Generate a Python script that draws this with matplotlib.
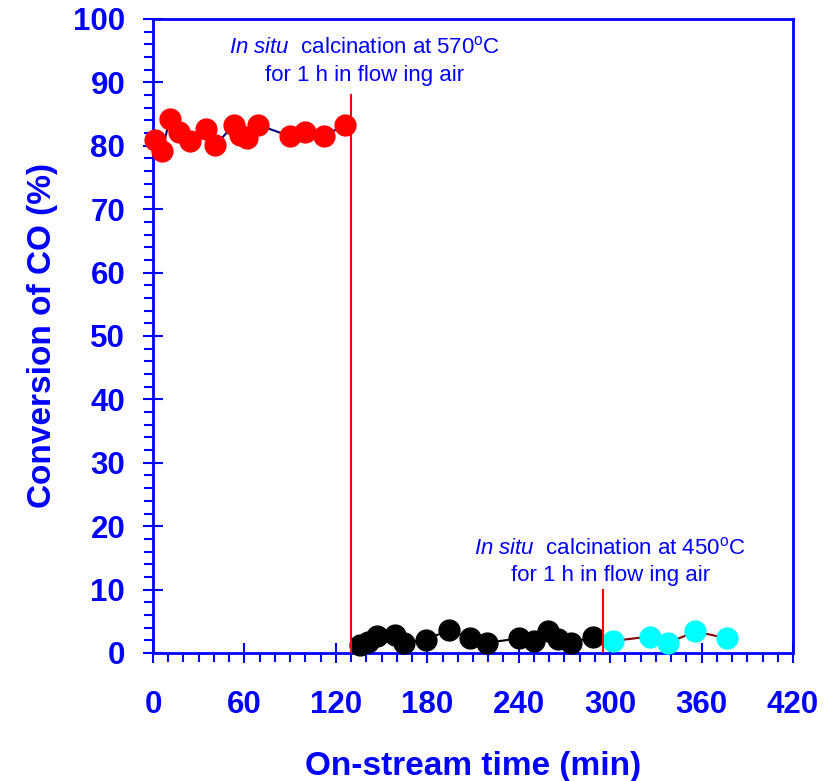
import numpy as np
import matplotlib
matplotlib.use('Agg')
import matplotlib.pyplot as plt
from matplotlib.ticker import MultipleLocator

plt.rcParams['font.family'] = ['Liberation Sans', 'DejaVu Sans']
plt.rcParams['mathtext.fontset'] = 'custom'
plt.rcParams['mathtext.rm'] = 'Liberation Sans'
plt.rcParams['mathtext.it'] = 'Liberation Sans:italic'

# fresh catalyst
t_red = [1, 6, 11, 17, 24, 35, 41, 53, 57, 62, 69, 90, 100, 112, 126]
co_red = [80.9, 79.1, 84.3, 82.2, 80.7, 82.6, 80.1, 83.3, 81.7, 81.2, 83.3, 81.5, 82.2, 81.5, 83.3]

# after calcination at 570 C
t_black = [136, 141, 147, 159, 165, 179, 194, 208, 219, 240, 250, 259, 266, 274, 289]
co_black = [1.3, 1.8, 2.7, 2.9, 1.6, 2.1, 3.6, 2.3, 1.6, 2.3, 1.9, 3.4, 2.2, 1.6, 2.5]

# after calcination at 450 C
t_cyan = [302, 326, 338, 356, 377]
co_cyan = [1.9, 2.6, 1.6, 3.4, 2.3]

calc_times = [130, 295.5]
calc_tops = [88, 10]

blue = '#0000ff'

fig = plt.figure(figsize=(8.31, 7.81), dpi=100)
ax = fig.add_axes([0.1841, 0.1639, 0.7702, 0.8118])

ax.plot(t_red, co_red, '-', color='#000080', lw=1.5, zorder=2)
ax.plot(t_red, co_red, 'o', color='red', ms=15, zorder=3, clip_on=False)
ax.plot(t_black, co_black, '-', color='black', lw=1.5, zorder=2)
ax.plot(t_black, co_black, 'o', color='black', ms=15, zorder=3, clip_on=False)
ax.plot(t_cyan, co_cyan, '-', color='#800000', lw=1.5, zorder=2)
ax.plot(t_cyan, co_cyan, 'o', color='cyan', ms=15, zorder=3, clip_on=False)

for tc, top in zip(calc_times, calc_tops):
    ax.plot([tc, tc], [0, top], color='red', lw=1.5, zorder=4)

ax.text(139, 93.4, r'$\it{In\ situ}$  calcination at 570$^{\rm o}$C' + '\nfor 1 h in flow ing air',
        ha='center', va='center', fontsize=16, color=blue, linespacing=1.4)
ax.text(300, 14.4, r'$\it{In\ situ}$  calcination at 450$^{\rm o}$C' + '\nfor 1 h in flow ing air',
        ha='center', va='center', fontsize=16, color=blue, linespacing=1.4)

ax.set_xlim(0, 420)
ax.set_ylim(0, 100)
ax.xaxis.set_major_locator(MultipleLocator(60))
ax.xaxis.set_minor_locator(MultipleLocator(10))
ax.yaxis.set_major_locator(MultipleLocator(10))
ax.yaxis.set_minor_locator(MultipleLocator(2))

for s in ax.spines.values():
    s.set_color(blue)
    s.set_linewidth(2)

ax.tick_params(which='major', direction='inout', length=14, width=1.5, color=blue,
               labelsize=22.5, labelcolor=blue)
ax.tick_params(which='minor', direction='out', length=6.5, width=1.5, color=blue)
ax.tick_params(axis='x', which='major', pad=20)
ax.tick_params(axis='y', which='major', pad=13)
for lab in ax.get_xticklabels() + ax.get_yticklabels():
    lab.set_fontweight('bold')

ax.set_xlabel('On-stream time (min)', fontsize=24, fontweight='bold', color=blue, labelpad=22)
ax.set_ylabel('Conversion of CO (%)', fontsize=24, fontweight='bold', color=blue, labelpad=11)

fig.savefig('out.png', dpi=100)
